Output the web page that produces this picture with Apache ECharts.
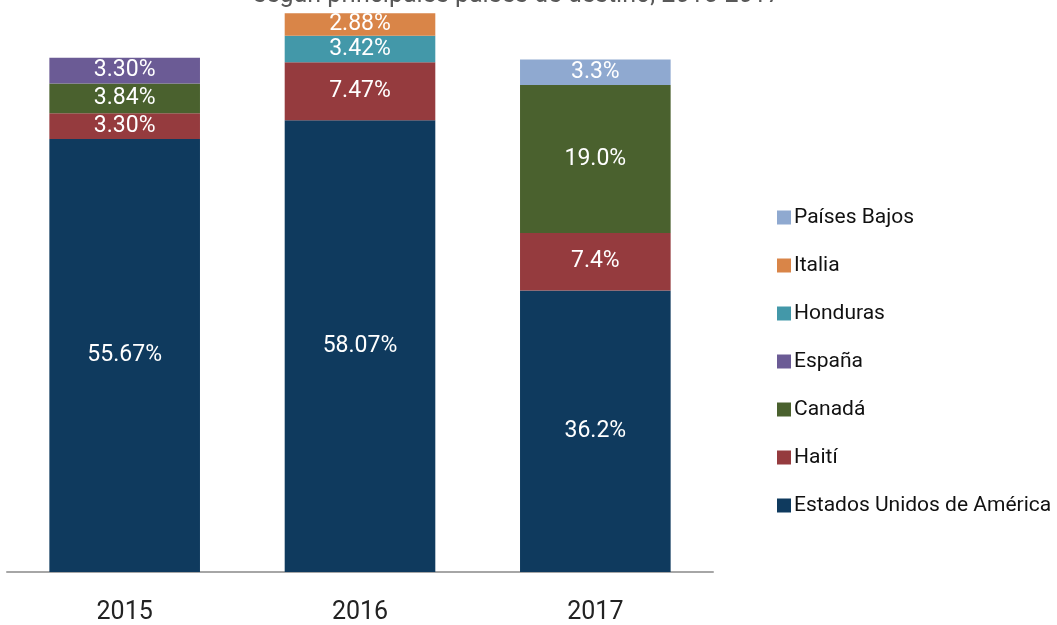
<!DOCTYPE html>
<html>
<head>
<meta charset="utf-8">
<script src="https://cdn.jsdelivr.net/npm/echarts@6/dist/echarts.min.js"></script>
<style>
html,body{margin:0;padding:0;background:#fff;}
#chart{width:1057px;height:625px;}
</style>
</head>
<body>
<div id="chart"></div>
<script>
const years = ['2015', '2016', '2017'];
const labelDecimals = [2, 2, 1];
const estadosUnidos = [55.67, 58.07, 36.2];
const haiti = [3.30, 7.47, 7.4];
const canada = [3.84, null, 19.0];
const espana = [3.30, null, null];
const honduras = [null, 3.42, null];
const italia = [null, 2.88, null];
const paisesBajos = [null, null, 3.3];
const titleText = 'según principales países de destino, 2015-2017';

const seriesDefs = [
  {name: 'Estados Unidos de América', data: estadosUnidos, color: '#0f3a5e'},
  {name: 'Haití', data: haiti, color: '#953b3e'},
  {name: 'Canadá', data: canada, color: '#4a612e'},
  {name: 'España', data: espana, color: '#6b5b95'},
  {name: 'Honduras', data: honduras, color: '#4398a9'},
  {name: 'Italia', data: italia, color: '#d98548'},
  {name: 'Países Bajos', data: paisesBajos, color: '#8fa9d0'}
];

const chart = echarts.init(document.getElementById('chart'), null, {renderer: 'canvas'});
chart.setOption({
  animation: false,
  backgroundColor: '#ffffff',
  title: {
    text: titleText,
    left: 512,
    textAlign: 'center',
    top: -22,
    textStyle: {fontFamily: 'Roboto, sans-serif', fontSize: 25, fontWeight: 'normal', color: '#595959'}
  },
  grid: {left: 7, right: 344, top: 12, bottom: 50, containLabel: false},
  legend: {
    orient: 'vertical',
    left: 772,
    top: 202,
    itemWidth: 14,
    itemHeight: 14,
    itemGap: 27,
    icon: 'rect',
    data: seriesDefs.map(s => s.name).reverse(),
    textStyle: {fontFamily: 'Roboto, sans-serif', fontSize: 21, color: '#111', padding: [0, 0, 0, -2]}
  },
  xAxis: {
    type: 'category',
    data: years,
    axisLine: {lineStyle: {color: '#a6a6a6', width: 2}},
    axisTick: {show: false},
    axisLabel: {margin: 28, fontFamily: 'Roboto, sans-serif', fontSize: 25, color: '#222'}
  },
  yAxis: {
    type: 'value',
    min: 0,
    max: 72,
    show: false,
    splitLine: {show: false}
  },
  series: seriesDefs.map(s => ({
    name: s.name,
    type: 'bar',
    stack: 'total',
    barWidth: '64%',
    data: s.data,
    itemStyle: {color: s.color},
    label: {
      show: true,
      position: 'inside',
      color: '#ffffff',
      fontFamily: 'Roboto, sans-serif',
      fontSize: 23,
      formatter: p => p.value == null ? '' : p.value.toFixed(labelDecimals[p.dataIndex]) + '%'
    }
  }))
});
</script>
</body>
</html>
